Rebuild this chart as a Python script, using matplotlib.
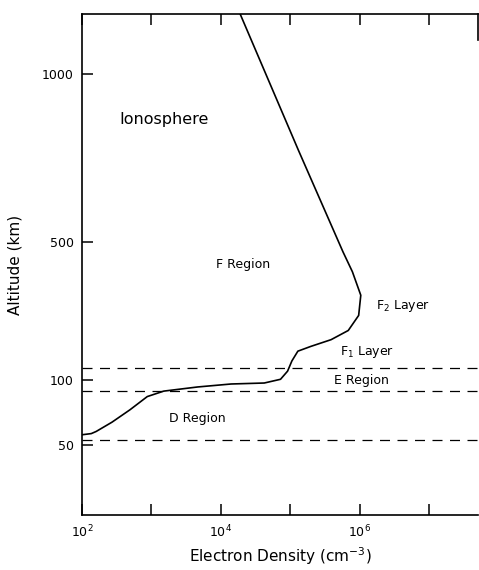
import numpy as np
import matplotlib
matplotlib.use("Agg")
import matplotlib.pyplot as plt
import matplotlib.ticker as mtick

# electron density profile through the ionosphere
density = [1.0e2, 1.36e2, 1.6e2, 2.7e2, 4.9e2, 8.7e2, 1.5e3, 4.6e3, 1.4e4, 4.2e4,
           7.2e4, 9.1e4, 1.05e5, 1.28e5, 1.97e5, 3.85e5, 6.8e5, 9.6e5, 1.03e6,
           7.8e5, 5.7e5, 1.31e5, 1.88e4]
altitude = [56, 56.7, 58, 64, 73, 84, 89, 93, 96, 97,
            101, 111, 125, 140, 148, 160, 178, 212, 268,
            352, 444, 728, 1282]

# region boundaries (km)
boundaries = [115, 89, 53]

yticks = [50, 100, 500, 1000]
xticks_major = [1e2, 1e4, 1e6]
xticks_minor = [1e3, 1e5, 1e7]

# the altitude axis is stretched unevenly between the labelled heights
_logs = np.array([0.0, np.log10(50), 2.0, np.log10(500), 3.0, 5.0])
_pos = np.array([-298.0, 69.0, 134.0, 272.0, 439.0, 1549.0])


def fwd(h):
    h = np.clip(np.asarray(h, dtype=float), 1.0, 1e5)
    return np.interp(np.log10(h), _logs, _pos)


def inv(p):
    p = np.asarray(p, dtype=float)
    return 10 ** np.interp(p, _pos, _logs)


plt.rcParams['font.family'] = ['DejaVu Sans']
fig = plt.figure(figsize=(4.79, 5.70), dpi=100)
ax = fig.add_axes([82 / 479, 1 - 515 / 570, (478 - 82) / 479, (515 - 14) / 570])

ax.set_xscale('log')
ax.set_yscale('function', functions=(fwd, inv))
ax.set_xlim(1e2, 10 ** 7.7)
ax.set_ylim(23.9, 1280)

ax.plot(density, altitude, color='black', lw=1.2)
for b in boundaries:
    ax.axhline(b, color='black', lw=0.9, dashes=(8, 6))

ax.text(3.5e2, 827, 'Ionosphere', fontsize=11.5, va='center', ha='left')
ax.text(8.6e3, 384, 'F Region', fontsize=9, va='center', ha='left')
ax.text(1.69e6, 237, 'F$_2$ Layer', fontsize=9, va='center', ha='left')
ax.text(5.15e5, 138, 'F$_1$ Layer', fontsize=9, va='center', ha='left')
ax.text(4.3e5, 100, 'E Region', fontsize=9, va='center', ha='left')
ax.text(1.78e3, 66.8, 'D Region', fontsize=9, va='center', ha='left')

ax.xaxis.set_major_locator(mtick.FixedLocator(xticks_major))
ax.xaxis.set_minor_locator(mtick.FixedLocator(xticks_minor))
ax.xaxis.set_major_formatter(mtick.LogFormatterMathtext())
ax.xaxis.set_minor_formatter(mtick.NullFormatter())
ax.yaxis.set_major_locator(mtick.FixedLocator(yticks))
ax.yaxis.set_minor_locator(mtick.NullLocator())
ax.yaxis.set_major_formatter(mtick.FormatStrFormatter('%d'))

ax.tick_params(axis='both', which='both', direction='in', length=8, width=1.1,
               labelsize=9, pad=6)
ax.tick_params(axis='x', which='both', top=True)
ax.tick_params(axis='y', which='both', right=False)

for side in ['left', 'bottom', 'top']:
    ax.spines[side].set_linewidth(1.2)
ax.spines['right'].set_bounds(1150, 1280)
ax.spines['right'].set_linewidth(1.2)

ax.set_ylabel('Altitude (km)', fontsize=11, labelpad=14)
ax.set_xlabel('Electron Density (cm$^{-3}$)', fontsize=11, labelpad=4)

fig.savefig('out.png', dpi=100)
